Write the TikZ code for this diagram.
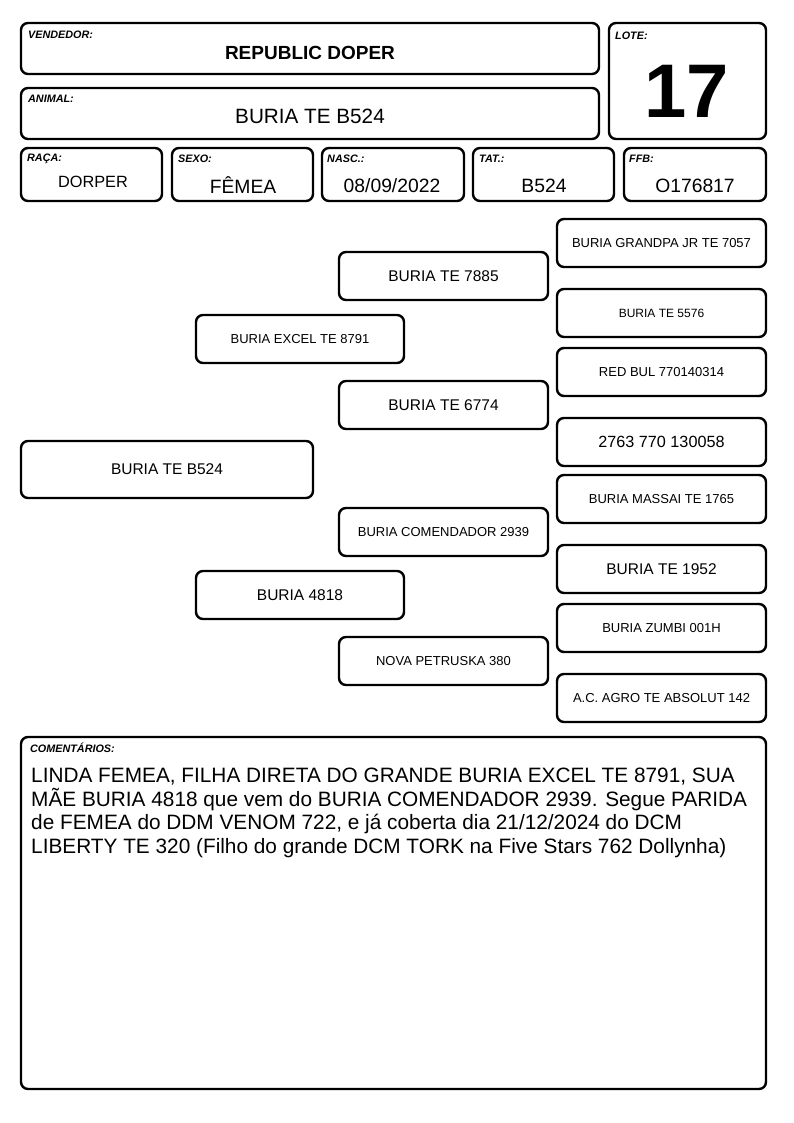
\documentclass[tikz,border=0pt]{standalone}
\usepackage{fontspec}
\setmainfont{Liberation Sans}
\begin{document}
\begin{tikzpicture}[x=1pt,y=-1pt,
  box/.style={draw=black, line width=2.4pt, rounded corners=7pt, inner sep=0pt},
  lab/.style={anchor=west, inner sep=0pt, font=\fontsize{10.8}{12}\selectfont\bfseries\itshape},
  ped/.style={box, minimum width=209pt, minimum height=48pt},
  big/.style={font=\fontsize{15.5}{17}\selectfont},
  small/.style={font=\fontsize{13}{15}\selectfont}]
\useasboundingbox (0,0) rectangle (794,1123);
% header
\node[box, minimum width=578pt, minimum height=51pt] (vend) at (310,48.5) {};
\node[lab] (vendl) at (28,35) {VENDEDOR:};
\node[inner sep=0pt, font=\fontsize{19}{21}\selectfont\bfseries] (vendv) at (310,53) {REPUBLIC DOPER};
\node[box, minimum width=578pt, minimum height=51pt] (anim) at (310,113.5) {};
\node[lab] (animl) at (28,99) {ANIMAL:};
\node[inner sep=0pt, font=\fontsize{20.7}{23}\selectfont] (animv) at (310,116) {BURIA TE B524};
\node[box, minimum width=157pt, minimum height=116pt] (lote) at (687.5,81) {};
\node[lab] (lotel) at (615,35.5) {LOTE:};
\node[inner sep=0pt, font=\fontsize{76}{80}\selectfont\bfseries] (lotev) at (687,91) {17};
% row
\node[box, minimum width=141pt, minimum height=53pt] (raca) at (91.5,174.5) {};
\node[lab] (racal) at (27,159) {RAÇA:};
\node[inner sep=0pt, font=\fontsize{16.3}{18}\selectfont] (racav) at (93,182) {DORPER};
\node[box, minimum width=141pt, minimum height=53pt] (sexo) at (242.5,174.5) {};
\node[lab] (sexol) at (178,159) {SEXO:};
\node[inner sep=0pt, font=\fontsize{19.3}{21}\selectfont] (sexov) at (243,185.5) {FÊMEA};
\node[box, minimum width=142pt, minimum height=53pt] (nasc) at (393,174.5) {};
\node[lab] (nascl) at (327,159) {NASC.:};
\node[inner sep=0pt, font=\fontsize{19.3}{21}\selectfont] (nascv) at (392,185.5) {08/09/2022};
\node[box, minimum width=141pt, minimum height=53pt] (tat) at (543.5,174.5) {};
\node[lab] (tatl) at (479,159) {TAT.:};
\node[inner sep=0pt, font=\fontsize{19.3}{21}\selectfont] (tatv) at (544,185.5) {B524};
\node[box, minimum width=142pt, minimum height=53pt] (ffb) at (695,174.5) {};
\node[lab] (ffbl) at (629,159) {FFB:};
\node[inner sep=0pt, font=\fontsize{19.3}{21}\selectfont] (ffbv) at (695,185.5) {O176817};
% pedigree
\node[box, minimum width=292pt, minimum height=57pt, big] (g0) at (167,469.5) {BURIA TE B524};
\node[ped, minimum width=208pt, small] (g1a) at (300,339) {BURIA EXCEL TE 8791};
\node[ped, minimum width=208pt, big] (g1b) at (300,595) {BURIA 4818};
\node[ped, big] (g2a) at (443.5,276) {BURIA TE 7885};
\node[ped, big] (g2b) at (443.5,405) {BURIA TE 6774};
\node[ped, small] (g2c) at (443.5,532) {BURIA COMENDADOR 2939};
\node[ped, small] (g2d) at (443.5,661) {NOVA PETRUSKA 380};
\node[ped, small] (g3a) at (661.5,243) {BURIA GRANDPA JR TE 7057};
\node[ped, font=\fontsize{12}{14}\selectfont] (g3b) at (661.5,313) {BURIA TE 5576};
\node[ped, small] (g3c) at (661.5,372) {RED BUL 770140314};
\node[ped, font=\fontsize{16.2}{18}\selectfont] (g3d) at (661.5,442) {2763 770 130058};
\node[ped, small] (g3e) at (661.5,499) {BURIA MASSAI TE 1765};
\node[ped, big] (g3f) at (661.5,569) {BURIA TE 1952};
\node[ped, small] (g3g) at (661.5,628) {BURIA ZUMBI 001H};
\node[ped, small] (g3h) at (661.5,698) {A.C. AGRO TE ABSOLUT 142};
% comments
\node[box, minimum width=745pt, minimum height=352pt] (com) at (393.5,913) {};
\node[lab] (coml) at (30,748) {COMENTÁRIOS:};
\node[anchor=north west, inner sep=0pt, align=left, font=\fontsize{20.8}{23.8}\selectfont] (comv) at (31,767.5) {LINDA FEMEA, FILHA DIRETA DO GRANDE BURIA EXCEL TE 8791, SUA\\MÃE BURIA 4818 que vem do BURIA COMENDADOR 2939. Segue PARIDA\\de FEMEA do DDM VENOM 722, e já coberta dia 21/12/2024 do DCM\\LIBERTY TE 320 (Filho do grande DCM TORK na Five Stars 762 Dollynha)};
\end{tikzpicture}
\end{document}
